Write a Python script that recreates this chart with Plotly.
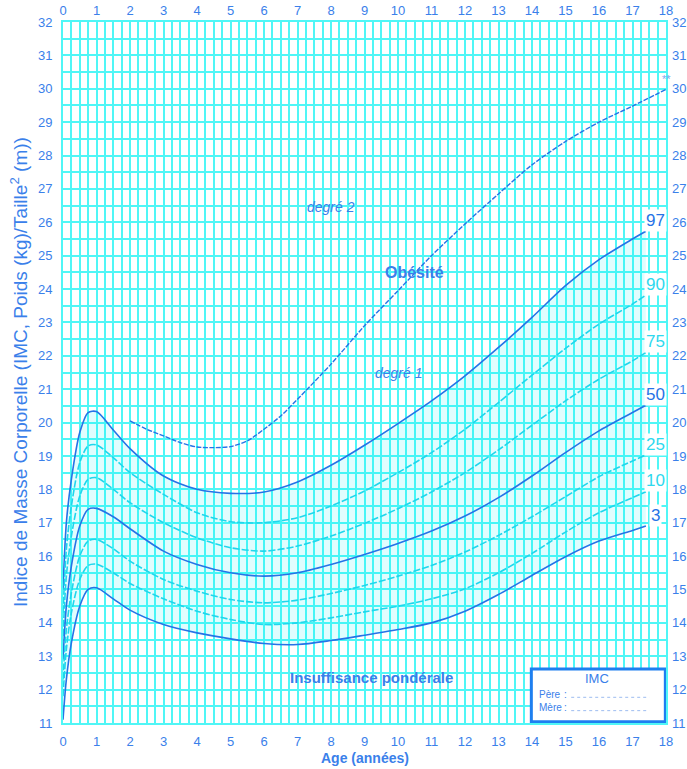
import plotly.graph_objects as go

AGES = [0, 0.1, 0.25, 0.5, 0.75, 1, 1.5, 2, 3, 4, 5, 6, 7, 8, 9, 10, 11, 12, 13, 14, 15, 16, 17, 17.4]
P97 = [15.0, 17.0, 18.3, 19.7, 20.3, 20.33, 19.78, 19.22, 18.4, 18.0, 17.88, 17.92, 18.22, 18.72, 19.32, 19.97, 20.65, 21.4, 22.25, 23.15, 24.1, 24.88, 25.5, 25.73]
P90 = [14.3, 16.2, 17.5, 18.8, 19.3, 19.33, 18.95, 18.5, 17.85, 17.3, 17.03, 17.0, 17.15, 17.5, 17.95, 18.5, 19.1, 19.8, 20.6, 21.42, 22.22, 22.95, 23.55, 23.82]
P75 = [13.6, 15.4, 16.6, 17.8, 18.3, 18.35, 18.0, 17.6, 17.0, 16.55, 16.25, 16.15, 16.3, 16.6, 16.98, 17.42, 17.92, 18.5, 19.18, 19.92, 20.65, 21.3, 21.85, 22.1]
P50 = [12.9, 14.5, 15.7, 16.9, 17.4, 17.43, 17.18, 16.82, 16.15, 15.75, 15.5, 15.4, 15.5, 15.75, 16.05, 16.38, 16.75, 17.2, 17.75, 18.4, 19.1, 19.75, 20.3, 20.52]
P25 = [12.3, 13.8, 14.9, 16.0, 16.45, 16.5, 16.22, 15.85, 15.3, 14.95, 14.7, 14.6, 14.68, 14.88, 15.12, 15.4, 15.72, 16.12, 16.62, 17.18, 17.78, 18.38, 18.85, 19.03]
P10 = [11.8, 13.2, 14.3, 15.3, 15.72, 15.76, 15.5, 15.18, 14.72, 14.35, 14.1, 13.95, 14.0, 14.15, 14.33, 14.5, 14.72, 15.02, 15.5, 16.08, 16.72, 17.3, 17.75, 17.93]
P3 = [11.1, 12.3, 13.4, 14.5, 15.0, 15.05, 14.72, 14.38, 13.95, 13.7, 13.52, 13.38, 13.35, 13.47, 13.63, 13.8, 14.0, 14.35, 14.85, 15.42, 15.98, 16.45, 16.77, 16.9]

OB_AGES = [2, 2.5, 3, 3.5, 4, 4.5, 5, 5.5, 6, 6.5, 7, 8, 9, 10, 11, 12, 13, 14, 15, 16, 17, 18]
OB_DEG2 = [20.05, 19.8, 19.6, 19.4, 19.27, 19.25, 19.28, 19.45, 19.8, 20.2, 20.7, 21.75, 22.9, 23.95, 25.0, 25.95, 26.85, 27.72, 28.42, 29.0, 29.48, 29.98]

X_TICKS = list(range(0, 19))
Y_TICKS = list(range(11, 33))
# grid: every quarter year, every half BMI unit; labels only on whole values
X_GRID = [q / 4 for q in range(0, 18 * 4 + 1)]
Y_GRID = [11 + h / 2 for h in range(0, 21 * 2 + 1)]
X_GRID_TEXT = [str(int(v)) if v in X_TICKS else "" for v in X_GRID]
Y_GRID_TEXT = [str(int(v)) if v in Y_TICKS else "" for v in Y_GRID]

BLUE = "#2673E6"
CYAN = "#1FD6EC"
GRID = "#50F6F6"
TXT = "#3A80EA"
FONT = "Liberation Sans, Arial, sans-serif"

fig = go.Figure()

# shaded band between P3 and P97
fig.add_trace(go.Scatter(x=AGES, y=P3, mode="lines", line=dict(width=0, shape="spline", smoothing=0.8),
                         hoverinfo="skip", showlegend=False))
fig.add_trace(go.Scatter(x=AGES, y=P97, mode="lines", line=dict(width=0, shape="spline", smoothing=0.8),
                         fill="tonexty", fillcolor="rgba(0,235,245,0.12)",
                         hoverinfo="skip", showlegend=False))

curves = [
    ("97", P97, BLUE, "solid"),
    ("90", P90, CYAN, "7px,2px"),
    ("75", P75, CYAN, "7px,2px"),
    ("50", P50, BLUE, "solid"),
    ("25", P25, CYAN, "7px,2px"),
    ("10", P10, CYAN, "7px,2px"),
    ("3", P3, BLUE, "solid"),
]
for name, vals, col, dash in curves:
    fig.add_trace(go.Scatter(x=AGES, y=vals, mode="lines", name=name,
                             line=dict(color=col, width=1.6, dash=dash, shape="spline", smoothing=0.8),
                             showlegend=False))
    fig.add_annotation(x=17.68, y=vals[-1] + 0.32, text=name, showarrow=False,
                       font=dict(family=FONT, size=17, color=col if col == BLUE else "#2ED8EE"),
                       bgcolor="white", xanchor="center", yanchor="middle", borderpad=1)

fig.add_trace(go.Scatter(x=OB_AGES, y=OB_DEG2, mode="lines", name="degré 2",
                         line=dict(color=BLUE, width=1.4, dash="5px,1.5px", shape="spline", smoothing=0.8),
                         showlegend=False))

# invisible trace to activate the top/right axes
fig.add_trace(go.Scatter(x=AGES, y=P3, xaxis="x2", yaxis="y2", mode="lines",
                         line=dict(width=0), opacity=0, hoverinfo="skip", showlegend=False))

tickfont = dict(family=FONT, size=13, color=TXT)

fig.update_layout(
    width=687, height=769,
    margin=dict(l=63, r=21, t=22, b=46, autoexpand=False),
    paper_bgcolor="white", plot_bgcolor="white",
    xaxis=dict(range=[0, 18], tickmode="array", tickvals=X_GRID, ticktext=X_GRID_TEXT, ticks="",
               zeroline=False, tickfont=tickfont, fixedrange=True, automargin=False,
               showgrid=True, gridcolor=GRID, gridwidth=1.8,
               showline=True, linecolor=GRID, linewidth=1.8, mirror=True, ticklabelstandoff=5),
    yaxis=dict(range=[11, 32], tickmode="array", tickvals=Y_GRID, ticktext=Y_GRID_TEXT, ticks="",
               zeroline=False, tickfont=tickfont, fixedrange=True, automargin=False,
               showgrid=True, gridcolor=GRID, gridwidth=1.8,
               showline=True, linecolor=GRID, linewidth=1.8, mirror=True, ticklabelstandoff=6),
    xaxis2=dict(range=[0, 18], tickmode="array", tickvals=X_TICKS, ticks="", zeroline=False,
                tickfont=tickfont, fixedrange=True, automargin=False,
                overlaying="x", side="top", anchor="y2", showgrid=False, ticklabelstandoff=3),
    yaxis2=dict(range=[11, 32], tickmode="array", tickvals=Y_TICKS, ticks="", zeroline=False,
                tickfont=tickfont, fixedrange=True, automargin=False,
                overlaying="y", side="right", anchor="x2", showgrid=False, ticklabelstandoff=5),
)

# region texts
fig.add_annotation(x=8.0, y=26.45, text="<i>degré 2</i>", showarrow=False,
                   font=dict(family=FONT, size=14, color=TXT))
fig.add_annotation(x=10.5, y=24.5, text="<b>Obésité</b>", showarrow=False,
                   font=dict(family=FONT, size=16, color=TXT))
fig.add_annotation(x=10.0, y=21.5, text="<i>degré 1</i>", showarrow=False,
                   font=dict(family=FONT, size=14, color=TXT))
fig.add_annotation(x=9.2, y=12.35, text="<b>Insuffisance pondérale</b>", showarrow=False,
                   font=dict(family=FONT, size=15, color=TXT))
fig.add_annotation(x=18.0, y=30.28, text="**", showarrow=False,
                   font=dict(family=FONT, size=11, color="#7FAAEE"))

# axis titles
fig.add_annotation(xref="paper", yref="paper", x=-0.097, y=0.5, textangle=-90,
                   text="Indice de Masse Corporelle (IMC, Poids (kg)/Taille<sup>2</sup> (m))",
                   showarrow=False, font=dict(family=FONT, size=19, color=TXT))
fig.add_annotation(xref="paper", yref="paper", x=0.5, y=-0.05, yanchor="middle",
                   text="<b>Age (années)</b>", showarrow=False,
                   font=dict(family=FONT, size=14, color=TXT))

# IMC box
fig.add_shape(type="rect", x0=13.98, x1=17.98, y0=11.04, y1=12.62,
              line=dict(color="#1E7FF0", width=3), fillcolor="white", layer="above")
fig.add_annotation(x=15.95, y=12.33, text="IMC", showarrow=False,
                   font=dict(family=FONT, size=13, color=TXT))
fig.add_annotation(x=14.15, y=11.85, text="Père", showarrow=False, xanchor="left",
                   font=dict(family=FONT, size=10, color=TXT))
fig.add_annotation(x=14.15, y=11.45, text="Mère", showarrow=False, xanchor="left",
                   font=dict(family=FONT, size=10, color=TXT))
fig.add_annotation(x=15.0, y=11.85, text=":", showarrow=False,
                   font=dict(family=FONT, size=10, color=TXT))
fig.add_annotation(x=15.0, y=11.45, text=":", showarrow=False,
                   font=dict(family=FONT, size=10, color=TXT))
for yy in (11.77, 11.37):
    fig.add_shape(type="line", x0=15.17, x1=17.5, y0=yy, y1=yy,
                  line=dict(color="#9DBCF0", width=1, dash="dot"), layer="above")

fig.write_html("out.html", config={"displayModeBar": False},
               post_script="document.body.style.margin='0';document.body.style.overflow='hidden';")
